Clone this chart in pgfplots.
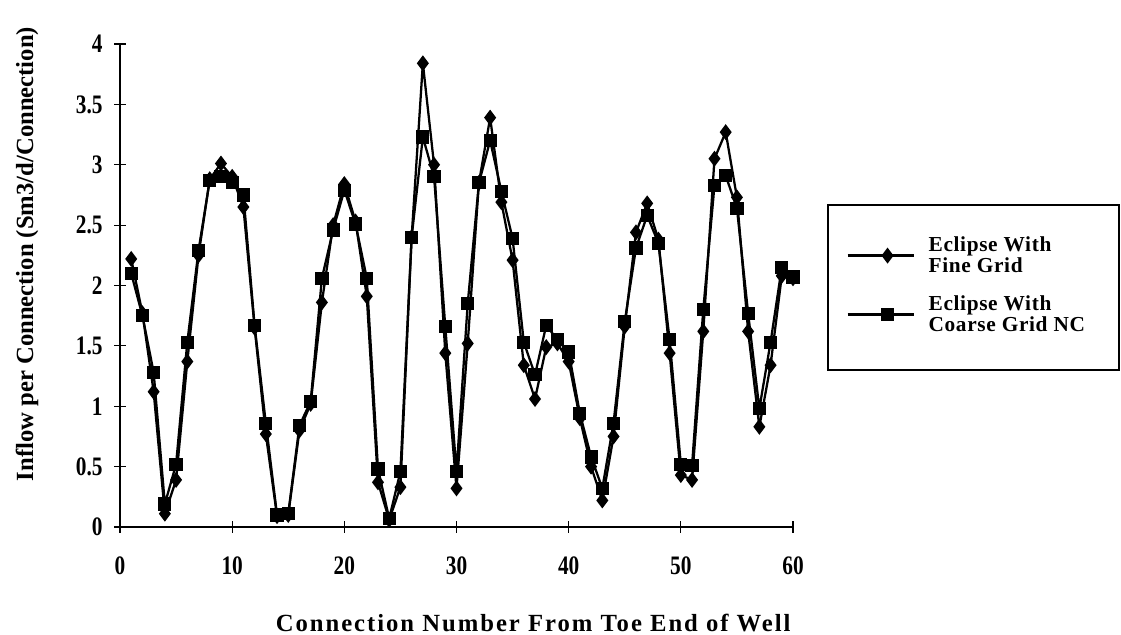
\documentclass[border=0pt]{standalone}
\usepackage{fontspec}
\setmainfont{Liberation Serif}
\newfontfamily\labfont{Liberation Serif}[LetterSpace=8.0]
\newfontfamily\legfont{Liberation Serif}[LetterSpace=3.0]
\newfontfamily\tickfont{Liberation Serif}[FakeStretch=0.8]
\usepackage{pgfplots}
\pgfplotsset{compat=1.18}

\pgfplotstableread{
x y
1 2.22
2 1.77
3 1.12
4 0.11
5 0.39
6 1.37
7 2.25
8 2.88
9 3.01
10 2.90
11 2.65
12 1.65
13 0.77
14 0.09
15 0.10
16 0.80
17 1.02
18 1.86
19 2.50
20 2.84
21 2.53
22 1.91
23 0.37
24 0.06
25 0.33
26 2.40
27 3.84
28 3.00
29 1.44
30 0.32
31 1.52
32 2.85
33 3.39
34 2.69
35 2.21
36 1.34
37 1.06
38 1.49
39 1.52
40 1.37
41 0.90
42 0.50
43 0.22
44 0.75
45 1.66
46 2.44
47 2.68
48 2.38
49 1.44
50 0.43
51 0.39
52 1.62
53 3.05
54 3.27
55 2.73
56 1.62
57 0.83
58 1.34
59 2.08
60 2.06
}\finegrid

\pgfplotstableread{
x y
1 2.10
2 1.75
3 1.28
4 0.19
5 0.52
6 1.53
7 2.29
8 2.87
9 2.90
10 2.85
11 2.75
12 1.67
13 0.86
14 0.10
15 0.11
16 0.84
17 1.04
18 2.06
19 2.46
20 2.79
21 2.51
22 2.06
23 0.48
24 0.07
25 0.46
26 2.40
27 3.23
28 2.90
29 1.66
30 0.46
31 1.85
32 2.85
33 3.20
34 2.78
35 2.39
36 1.53
37 1.26
38 1.67
39 1.55
40 1.45
41 0.94
42 0.58
43 0.32
44 0.86
45 1.70
46 2.31
47 2.58
48 2.35
49 1.55
50 0.52
51 0.51
52 1.80
53 2.83
54 2.91
55 2.64
56 1.77
57 0.98
58 1.53
59 2.15
60 2.07
}\coarsegrid

\begin{document}
\begin{tikzpicture}
\useasboundingbox (0,0) rectangle (840.75pt,476.25pt);
\begin{axis}[
  at={(90pt,81pt)}, anchor=south west,
  scale only axis,
  width=504.75pt, height=362.25pt,
  xmin=0, xmax=60, ymin=0, ymax=4,
  axis lines=left,
  axis line style={-, line width=0.9pt},
  x axis line style={line width=1.6pt},
  xtick={0,10,...,60},
  ytick={0,0.5,...,4},
  yticklabels={0,0.5,1,1.5,2,2.5,3,3.5,4},
  tick align=center,
  major tick length=9pt,
  tick style={line width=0.9pt, black},
  clip=false,
  tick label style={font=\fontsize{20}{22}\selectfont\tickfont\bfseries},
  /pgf/number format/assume math mode=true,
  xticklabel style={yshift=-14pt},
  yticklabel style={xshift=-5pt},
  xlabel={\labfont\bfseries Connection Number From Toe End of Well},
  xlabel style={font=\fontsize{18.5}{20}\selectfont, at={(axis description cs:0.614,-0.217)}, anchor=base},
  ylabel={\bfseries Inflow per Connection (Sm3/d/Connection)},
  ylabel style={font=\fontsize{18.5}{20}\selectfont, at={(axis description cs:-0.138,0.565)}, anchor=center, rotate=0},
  legend style={draw=none, fill=none, at={(axis description cs:1.073,0.501)}, anchor=west,
    font=\fontsize{16}{14.5}\selectfont\legfont\bfseries,
    cells={anchor=west, align=left}, row sep=12pt, column sep=8pt},
  legend image code/.code={\draw[mark repeat=2,mark phase=2] plot coordinates {(0pt,0pt) (30pt,0pt) (50pt,0pt)};},
]
\addplot[black, line width=1.7pt, mark=diamond*, mark size=4.6pt, mark options={solid, fill=black}] table[x=x,y=y] {\finegrid};
\addlegendentry{Eclipse With\\Fine Grid}
\addplot[black, line width=1.7pt, mark=square*, mark size=4.1pt, mark options={solid, fill=black, rounded corners=1.2pt}] table[x=x,y=y] {\coarsegrid};
\addlegendentry{Eclipse With\\Coarse Grid NC}
\end{axis}
\draw[line width=1.3pt] (621pt,198.75pt) rectangle (839.5pt,322.5pt);
\end{tikzpicture}
\end{document}
